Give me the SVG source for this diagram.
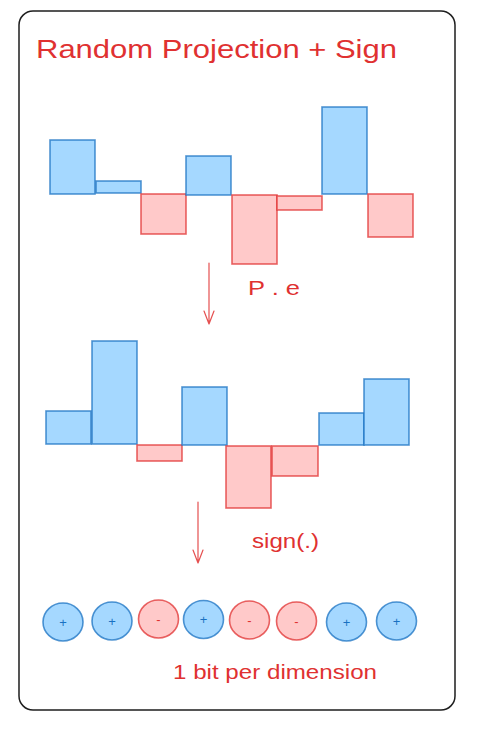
<svg xmlns="http://www.w3.org/2000/svg" width="481" height="729" viewBox="0 0 481 729">
<style>
.pos{fill:#a5d8ff;stroke:#1971c2;stroke-opacity:0.75;stroke-width:1.6}
.neg{fill:#ffc9c9;stroke:#e03131;stroke-opacity:0.75;stroke-width:1.6}
.lbl{font-family:"Liberation Sans",Arial,sans-serif;fill:#e03131}
.arr{stroke:#e03131;stroke-width:1.2;fill:none;stroke-linecap:round;stroke-linejoin:round;stroke-opacity:0.85}
.sg{font-family:"Liberation Sans",Arial,sans-serif;font-size:13px;text-anchor:middle}
</style>
<rect x="0" y="0" width="481" height="729" fill="#ffffff"/>
<g id="frame">
<rect x="19" y="11" width="436" height="699" rx="14" fill="#ffffff" stroke="#1e1e1e" stroke-width="1.5"/>
</g>
<g id="title">
<text class="lbl" x="36" y="58" font-size="26" textLength="361" lengthAdjust="spacingAndGlyphs">Random Projection + Sign</text>
</g>
<g id="input-vector">
<rect class="pos" x="50" y="140" width="45" height="54"/>
<rect class="pos" x="96" y="181" width="45" height="12"/>
<rect class="neg" x="141" y="194" width="45" height="40"/>
<rect class="pos" x="186" y="156" width="45" height="39"/>
<rect class="neg" x="232" y="195" width="45" height="69"/>
<rect class="neg" x="277" y="196" width="45" height="14"/>
<rect class="pos" x="322" y="107" width="45" height="87"/>
<rect class="neg" x="368" y="194" width="45" height="43"/>
</g>
<g id="projected-vector">
<rect class="pos" x="46" y="411" width="45" height="33"/>
<rect class="pos" x="92" y="341" width="45" height="103"/>
<rect class="neg" x="137" y="445" width="45" height="16"/>
<rect class="pos" x="182" y="387" width="45" height="58"/>
<rect class="neg" x="226" y="446" width="45" height="62"/>
<rect class="neg" x="272" y="446" width="46" height="30"/>
<rect class="pos" x="319" y="413" width="45" height="32"/>
<rect class="pos" x="364" y="379" width="45" height="66"/>
</g>
<g id="connectors">
<path class="arr" d="M209 263 L209 324 M204 311 L209 324 L214 311"/>
<path class="arr" d="M198 502 L198 563 M193 550 L198 563 L203 550"/>
</g>
<g id="label-pe">
<text class="lbl" x="248" y="295" font-size="20" textLength="52" lengthAdjust="spacingAndGlyphs">P . e</text>
</g>
<g id="label-sign">
<text class="lbl" x="252" y="548" font-size="20" textLength="67" lengthAdjust="spacingAndGlyphs">sign(.)</text>
</g>
<g id="bits">
<g id="bit1"><ellipse class="pos" cx="63" cy="622" rx="20" ry="19"/><text class="sg" x="63" y="626.5" fill="#1971c2">+</text></g>
<g id="bit2"><ellipse class="pos" cx="112" cy="621" rx="20" ry="19"/><text class="sg" x="112" y="625.5" fill="#1971c2">+</text></g>
<g id="bit3"><ellipse class="neg" cx="158.5" cy="619" rx="20" ry="19"/><text class="sg" x="158.5" y="623.5" fill="#e03131">-</text></g>
<g id="bit4"><ellipse class="pos" cx="203.5" cy="619.5" rx="20" ry="19"/><text class="sg" x="203.5" y="624" fill="#1971c2">+</text></g>
<g id="bit5"><ellipse class="neg" cx="249.5" cy="620" rx="20" ry="19"/><text class="sg" x="249.5" y="624.5" fill="#e03131">-</text></g>
<g id="bit6"><ellipse class="neg" cx="296.5" cy="621" rx="20" ry="19"/><text class="sg" x="296.5" y="625.5" fill="#e03131">-</text></g>
<g id="bit7"><ellipse class="pos" cx="346.5" cy="622" rx="20" ry="19"/><text class="sg" x="346.5" y="626.5" fill="#1971c2">+</text></g>
<g id="bit8"><ellipse class="pos" cx="396.5" cy="621" rx="20" ry="19"/><text class="sg" x="396.5" y="625.5" fill="#1971c2">+</text></g>
</g>
<g id="label-bits">
<text class="lbl" x="173" y="679" font-size="20" textLength="204" lengthAdjust="spacingAndGlyphs">1 bit per dimension</text>
</g>
</svg>
